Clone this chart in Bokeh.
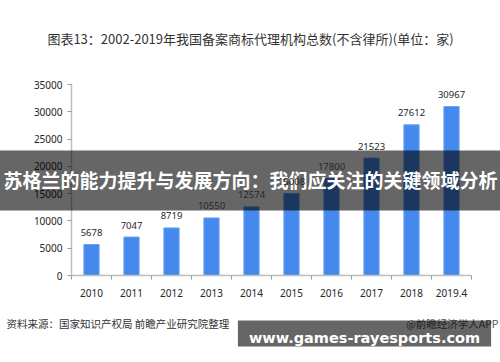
from bokeh.plotting import figure
from bokeh.models import (ColumnDataSource, Range1d, FixedTicker, Label, LabelSet)
from bokeh.core.properties import value
from bokeh.embed import file_html
from bokeh.resources import INLINE

# ---- data ----
categories = ["2010", "2011", "2012", "2013", "2014", "2015", "2016", "2017", "2018", "2019.4"]
agencies = [5678, 7047, 8719, 10550, 12574, 15008, 17800, 21523, 27612, 30967]
y_ticks = [0, 5000, 10000, 15000, 20000, 25000, 30000, 35000]

title_text = "图表13：2002-2019年我国备案商标代理机构总数(不含律所)(单位：家)"
source_text = "资料来源：国家知识产权局 前瞻产业研究院整理"
credit_text = "@前瞻经济学人APP"
banner_text = "苏格兰的能力提升与发展方向：我们应关注的关键领域分析"
site_text = "www.games-rayesports.com"

CJK = "Noto Sans CJK SC"
NUM = "Noto Sans"

W, H = 500, 362
L, R, T, B = 71, 29, 84, 87   # borders -> frame

xs = [i + 0.5 for i in range(len(categories))]
src = ColumnDataSource(dict(x=xs, y=agencies, lbl=[str(v) for v in agencies]))

p = figure(width=W, height=H, output_backend="svg", toolbar_location=None,
           x_range=Range1d(0, len(categories)), y_range=Range1d(0, 35000),
           min_border_left=L, min_border_right=R, min_border_top=T, min_border_bottom=B)
p.outline_line_color = None
p.xgrid.grid_line_color = None
p.ygrid.grid_line_color = None
p.background_fill_color = "white"
p.border_fill_color = "white"

p.vbar(x="x", top="y", width=0.38, bottom=0, source=src,
       fill_color="#4689ee", line_color="#6aa2f2", line_width=1)

p.add_layout(LabelSet(x="x", y="y", text="lbl", source=src, y_offset=12,
                      text_align="center", text_baseline="middle",
                      text_font=value(NUM), text_font_size=value("9.5px"),
                      text_color="#262626"))

# axes
xa = p.xaxis[0]
xa.ticker = FixedTicker(ticks=xs, minor_ticks=list(range(len(categories) + 1)))
xa.major_label_overrides = {x: c for x, c in zip(xs, categories)}
xa.major_tick_line_color = None
xa.minor_tick_in = 0
xa.minor_tick_out = 4
xa.minor_tick_line_color = "#9a9a9a"
xa.axis_line_color = "#bfbfbf"
xa.axis_line_width = 1.5
xa.major_label_text_font = NUM
xa.major_label_text_font_size = "10px"
xa.major_label_text_color = "#262626"
xa.major_label_standoff = 7

ya = p.yaxis[0]
ya.ticker = FixedTicker(ticks=y_ticks)
ya.major_tick_in = 0
ya.major_tick_out = 4
ya.major_tick_line_color = "#9a9a9a"
ya.minor_tick_line_color = None
ya.axis_line_color = "#bfbfbf"
ya.axis_line_width = 1.5
ya.major_label_text_font = NUM
ya.major_label_text_font_size = "10px"
ya.major_label_text_color = "#262626"
ya.major_label_standoff = 5


def lab(x, y, text, **kw):
    d = dict(x=x, y=y, x_units="canvas", y_units="canvas", text=text)
    d.update(kw)
    return Label(**d)


# items placed in side panels so they are not clipped to the frame
p.add_layout(lab(250, 38, title_text, text_align="center", text_baseline="middle",
                 text_font=CJK, text_font_size="13px", text_color="#333333"), "above")

# banner overlay: text with a padded translucent background (left, right, top, bottom)
p.add_layout(lab(250, 180, banner_text, text_align="center", text_baseline="middle",
                 text_font=CJK, text_font_size="19px", text_font_style="bold",
                 text_color="white", background_fill_color="black",
                 background_fill_alpha=0.6, padding=(4, 4, 15, 18)), "above")

p.add_layout(lab(498, 323, credit_text, text_align="right", text_baseline="middle",
                 text_font=CJK, text_font_size="10.5px", text_color="#555555"), "below")
p.add_layout(lab(6, 323, source_text, text_align="left", text_baseline="middle",
                 text_font=CJK, text_font_size="10.5px", text_color="#333333"), "below")

# site watermark box
p.add_layout(lab(364, 333, site_text, text_align="center", text_baseline="middle",
                 text_font="DejaVu Sans", text_font_size="14.5px", text_font_style="bold",
                 text_color="white", background_fill_color="black",
                 background_fill_alpha=0.6, padding=(11, 11, 9, 1)), "below")

open("out.html", "w").write(file_html(p, INLINE))
